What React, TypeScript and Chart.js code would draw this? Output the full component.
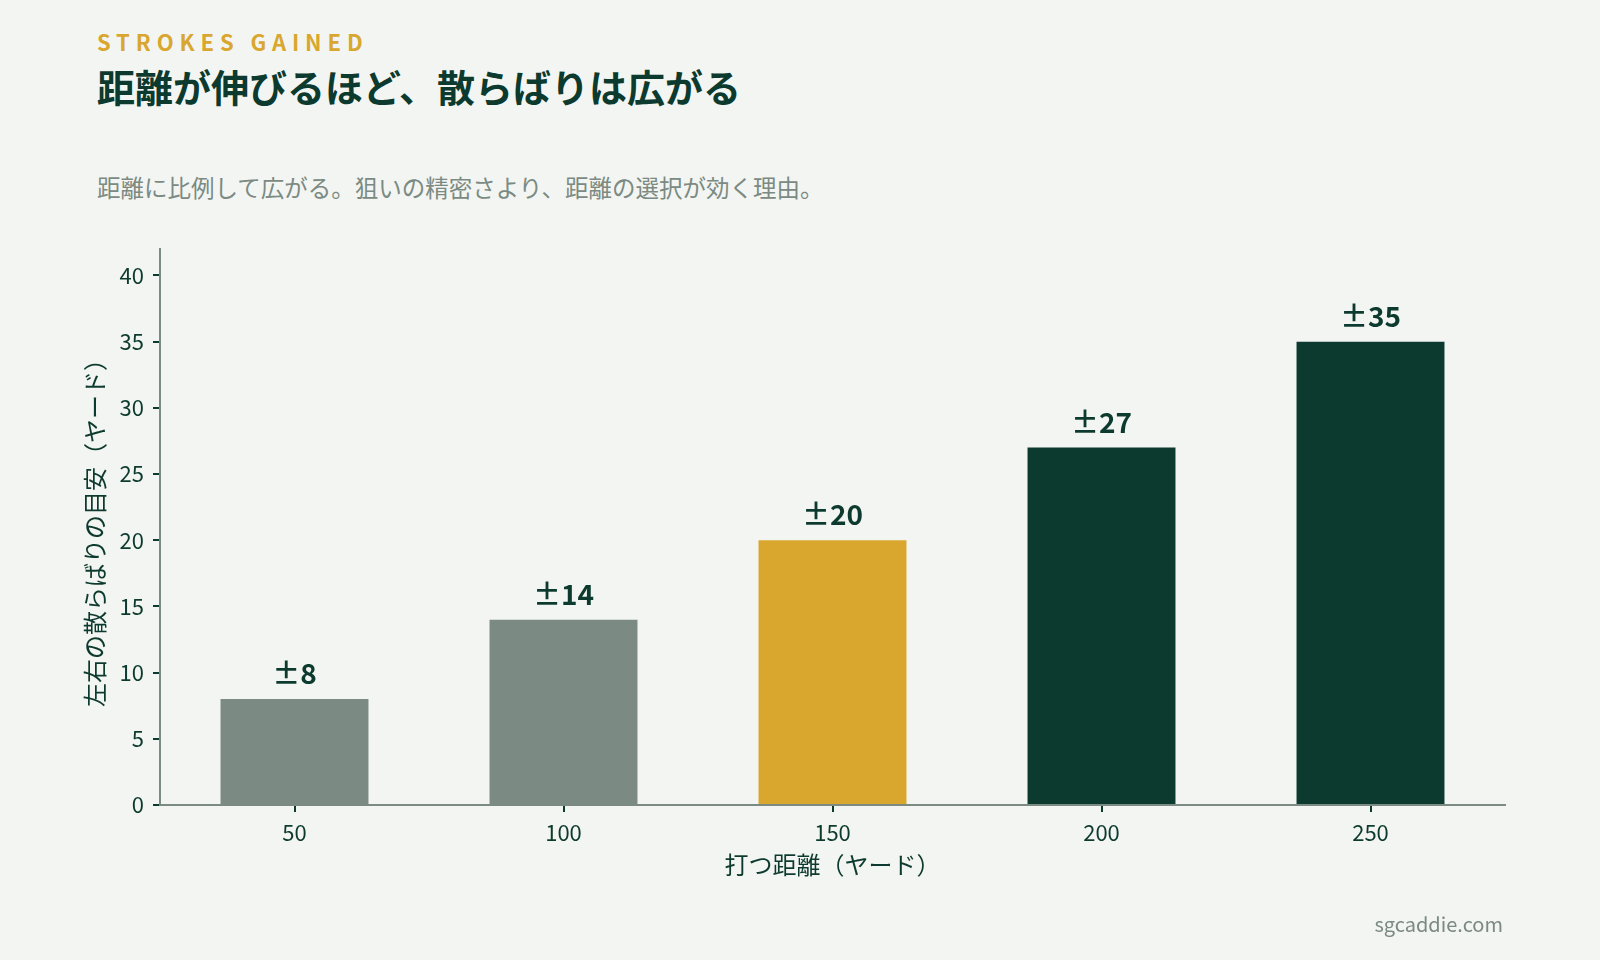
import { useEffect, useRef } from "react";
import { Chart, registerables } from "chart.js";
import type { Plugin } from "chart.js";

Chart.register(...registerables);

const distances = ["50", "100", "150", "200", "250"];
const spread = [8, 14, 20, 27, 35];
const barColors = ["#7b8a82", "#7b8a82", "#d9a62e", "#0d3a2e", "#0d3a2e"];

const FONT = '"Noto Sans CJK JP", "Noto Sans", sans-serif';
const DARK = "#0d3a2e";
const MUTED = "#7b8a82";
const BG = "#f3f5f2";

const valueLabels: Plugin<"bar"> = {
  id: "valueLabels",
  afterDatasetsDraw(chart) {
    const { ctx } = chart;
    const meta = chart.getDatasetMeta(0);
    ctx.save();
    ctx.font = `bold 28px ${FONT}`;
    ctx.fillStyle = DARK;
    ctx.textAlign = "center";
    ctx.textBaseline = "alphabetic";
    meta.data.forEach((bar, i) => {
      ctx.fillText(`±${spread[i]}`, bar.x, bar.y - 15);
    });
    ctx.restore();
  },
};

function SpreadChart() {
  const canvasRef = useRef<HTMLCanvasElement>(null);
  const chartRef = useRef<Chart | null>(null);

  useEffect(() => {
    if (!canvasRef.current) return;
    chartRef.current?.destroy();

    chartRef.current = new Chart(canvasRef.current, {
      type: "bar",
      data: {
        labels: distances,
        datasets: [{
          data: spread,
          backgroundColor: barColors,
          barPercentage: 0.55,
          categoryPercentage: 1,
        }],
      },
      options: {
        responsive: true,
        maintainAspectRatio: false,
        animation: false,
        layout: { padding: { top: 29, right: 95, bottom: 35, left: 0 } },
        plugins: { legend: { display: false }, tooltip: { enabled: false } },
        scales: {
          x: {
            afterFit: (s) => { s.height = 80; },
            grid: { display: true, offset: false, drawOnChartArea: false, drawTicks: true, tickLength: 7, color: DARK, lineWidth: 2 },
            border: { display: true, color: MUTED, width: 2 },
            ticks: { color: DARK, font: { family: FONT, size: 22 }, padding: 7 },
            title: {
              display: true,
              text: "打つ距離（ヤード）",
              color: DARK,
              font: { family: FONT, size: 24 },
              padding: { top: 0, bottom: 6 },
            },
          },
          y: {
            min: 0,
            max: 42,
            afterFit: (s) => { s.width = 160; },
            afterBuildTicks: (s) => { s.ticks = s.ticks.filter((t) => t.value % 5 === 0); },
            grid: { display: true, drawOnChartArea: false, drawTicks: true, tickLength: 7, color: DARK, lineWidth: 2 },
            border: { display: true, color: MUTED, width: 2 },
            ticks: { stepSize: 5, color: DARK, font: { family: FONT, size: 22 }, padding: 9 },
            title: {
              display: true,
              text: "左右の散らばりの目安（ヤード）",
              color: DARK,
              font: { family: FONT, size: 24 },
              padding: { top: 80, bottom: 0 },
            },
          },
        },
      },
      plugins: [valueLabels],
    });

    return () => { chartRef.current?.destroy(); };
  }, []);

  return (
    <div style={{ position: "absolute", left: 0, top: 220, width: 1600, height: 700 }}>
      <canvas ref={canvasRef} />
    </div>
  );
}

export default function App() {
  useEffect(() => { document.body.style.margin = "0"; }, []);

  return (
    <div style={{ position: "absolute", left: 0, top: 0, width: 1600, height: 960, background: BG, fontFamily: FONT, overflow: "hidden" }}>
      <div style={{ position: "absolute", left: 97, top: 30, fontSize: 22, lineHeight: 1, fontWeight: 700, letterSpacing: "5.9px", color: "#d9a62e" }}>
        STROKES GAINED
      </div>
      <div style={{ position: "absolute", left: 97, top: 67, fontSize: 38, lineHeight: 1, fontWeight: 700, color: DARK }}>
        距離が伸びるほど、散らばりは広がる
      </div>
      <div style={{ position: "absolute", left: 97, top: 176, fontSize: 23.5, lineHeight: 1, color: MUTED }}>
        距離に比例して広がる。狙いの精密さより、距離の選択が効く理由。
      </div>
      <SpreadChart />
      <div style={{ position: "absolute", right: 97, top: 914, fontSize: 20, lineHeight: 1, color: MUTED, fontFamily: '"Source Sans Pro", "Noto Sans CJK JP", sans-serif' }}>
        sgcaddie.com
      </div>
    </div>
  );
}
